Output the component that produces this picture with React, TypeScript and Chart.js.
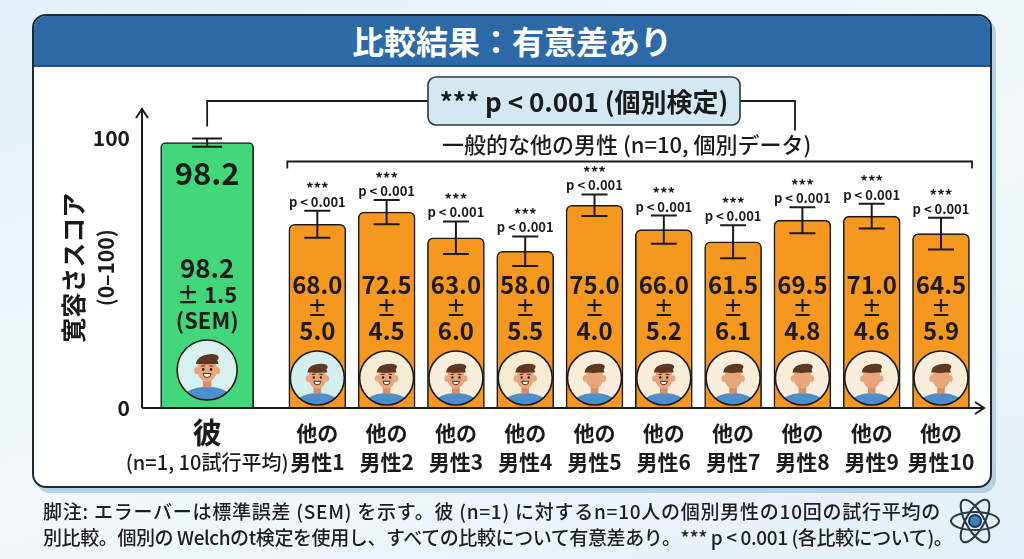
import { useEffect, useRef } from 'react';
import { Chart, registerables } from 'chart.js';

Chart.register(...registerables);

// --- data ---
const heLabels = ['彼', '(n=1, 10試行平均)'];
const heMeans = [98.2];
const heSems = [1.5];

const otherLabels = [
  ['他の', '男性1'], ['他の', '男性2'], ['他の', '男性3'], ['他の', '男性4'], ['他の', '男性5'],
  ['他の', '男性6'], ['他の', '男性7'], ['他の', '男性8'], ['他の', '男性9'], ['他の', '男性10'],
];
const otherMeans = [68.0, 72.5, 63.0, 58.0, 75.0, 66.0, 61.5, 69.5, 71.0, 64.5];
const otherSems = [5.0, 4.5, 6.0, 5.5, 4.0, 5.2, 6.1, 4.8, 4.6, 5.9];
const sigStars = ['***', '***', '***', '***', '***', '***', '***', '***', '***', '***'];
const pTexts = ['p < 0.001', 'p < 0.001', 'p < 0.001', 'p < 0.001', 'p < 0.001', 'p < 0.001', 'p < 0.001', 'p < 0.001', 'p < 0.001', 'p < 0.001'];

const yTicks = [0, 100];
const yTitle = ['寛容さスコア', '(0–100)'];
const groupLabel = '一般的な他の男性 (n=10, 個別データ)';
const testLabel = '*** p < 0.001 (個別検定)';

// face style per bar (smiling face or plain silhouette)
const faceSmile = [true, true, true, true, false, true, false, false, false, false];
const faceBg = ['#d3eeec', '#f5ecd6', '#f7eedb', '#f6ebd3', '#f8eedb', '#f7edd8', '#f8eedb', '#f8eedb', '#f8eedb', '#f8eedb'];

const GROUP_GAP = 0.59; // extra space between 彼 and the others
const FONT = '"Noto Sans CJK JP", "Noto Sans", sans-serif';
const GREEN = '#43d77b';
const ORANGE = '#f6971f';
const INK = '#1b1b1b';

const otherX = otherMeans.map((_, i) => i + 1 + GROUP_GAP);

function drawFace(ctx: CanvasRenderingContext2D, cx: number, cy: number, r: number, bg: string, smile: boolean) {
  ctx.save();
  ctx.beginPath();
  ctx.arc(cx, cy, r, 0, Math.PI * 2);
  ctx.fillStyle = bg;
  ctx.fill();
  ctx.clip();
  // shirt
  ctx.fillStyle = '#4e8fcb';
  ctx.beginPath();
  ctx.ellipse(cx, cy + r * 1.02, r * 0.86, r * 0.46, 0, 0, Math.PI * 2);
  ctx.fill();
  // neck
  ctx.fillStyle = '#d68f68';
  ctx.fillRect(cx - r * 0.14, cy + r * 0.18, r * 0.28, r * 0.4);
  // ears + head
  ctx.fillStyle = '#e8a47b';
  ctx.beginPath();
  ctx.ellipse(cx - r * 0.35, cy + r * 0.02, r * 0.08, r * 0.12, 0, 0, Math.PI * 2);
  ctx.ellipse(cx + r * 0.35, cy + r * 0.02, r * 0.08, r * 0.12, 0, 0, Math.PI * 2);
  ctx.fill();
  ctx.beginPath();
  ctx.ellipse(cx, cy - r * 0.02, r * 0.33, r * 0.41, 0, 0, Math.PI * 2);
  ctx.fill();
  // hair
  ctx.fillStyle = '#5a3822';
  ctx.beginPath();
  ctx.ellipse(cx, cy - r * 0.2, r * 0.37, r * 0.3, 0, Math.PI, Math.PI * 2);
  ctx.fill();
  ctx.beginPath();
  ctx.ellipse(cx + r * 0.05, cy - r * 0.36, r * 0.34, r * 0.16, -0.2, 0, Math.PI * 2);
  ctx.fill();
  if (smile) {
    ctx.fillStyle = '#2a1a10';
    ctx.beginPath();
    ctx.arc(cx - r * 0.13, cy - r * 0.02, r * 0.045, 0, Math.PI * 2);
    ctx.arc(cx + r * 0.13, cy - r * 0.02, r * 0.045, 0, Math.PI * 2);
    ctx.fill();
    ctx.lineWidth = 1;
    ctx.strokeStyle = '#4a2a18';
    ctx.beginPath();
    ctx.moveTo(cx - r * 0.2, cy - r * 0.13);
    ctx.lineTo(cx - r * 0.07, cy - r * 0.14);
    ctx.moveTo(cx + r * 0.07, cy - r * 0.14);
    ctx.lineTo(cx + r * 0.2, cy - r * 0.13);
    ctx.stroke();
    ctx.fillStyle = '#ffffff';
    ctx.beginPath();
    ctx.arc(cx, cy + r * 0.12, r * 0.13, 0, Math.PI);
    ctx.closePath();
    ctx.fill();
    ctx.stroke();
  }
  ctx.restore();
  ctx.beginPath();
  ctx.arc(cx, cy, r, 0, Math.PI * 2);
  ctx.lineWidth = 1.6;
  ctx.strokeStyle = INK;
  ctx.stroke();
}

function errorBar(ctx: CanvasRenderingContext2D, cx: number, top: number, bottom: number, half: number) {
  ctx.beginPath();
  ctx.moveTo(cx, top);
  ctx.lineTo(cx, bottom);
  ctx.moveTo(cx - half, top);
  ctx.lineTo(cx + half, top);
  ctx.moveTo(cx - half, bottom);
  ctx.lineTo(cx + half, bottom);
  ctx.stroke();
}

const overlayPlugin = {
  id: 'overlay',
  afterDatasetsDraw(chart: any) {
    const { ctx, chartArea } = chart;
    const xs = chart.scales.x;
    const ys = chart.scales.y;
    const { left, right, top, bottom } = chartArea;
    ctx.save();
    ctx.strokeStyle = INK;
    ctx.fillStyle = INK;
    ctx.textAlign = 'center';
    ctx.textBaseline = 'middle';

    // axes with arrows
    ctx.lineWidth = 2;
    ctx.beginPath();
    ctx.moveTo(left, bottom);
    ctx.lineTo(left, top + 1);
    ctx.moveTo(left - 6, top + 10);
    ctx.lineTo(left, top + 1);
    ctx.lineTo(left + 6, top + 10);
    ctx.moveTo(left, bottom);
    ctx.lineTo(right - 1, bottom);
    ctx.moveTo(right - 10, bottom - 6);
    ctx.lineTo(right - 1, bottom);
    ctx.lineTo(right - 10, bottom + 6);
    ctx.stroke();

    // y ticks
    ctx.textAlign = 'right';
    ctx.font = `bold 21px ${FONT}`;
    yTicks.forEach((v) => ctx.fillText(String(v), left - 12, ys.getPixelForValue(v)));

    // y title
    const midY = ys.getPixelForValue(50) - 5;
    ctx.textAlign = 'center';
    ctx.save();
    ctx.translate(73, midY);
    ctx.rotate(-Math.PI / 2);
    ctx.font = `bold 25px ${FONT}`;
    ctx.fillText(yTitle[0], 0, 0);
    ctx.restore();
    ctx.save();
    ctx.translate(106, midY);
    ctx.rotate(-Math.PI / 2);
    ctx.font = `bold 21px ${FONT}`;
    ctx.fillText(yTitle[1], 0, 0);
    ctx.restore();

    // --- 彼 ---
    const hx = xs.getPixelForValue(0);
    const hTop = ys.getPixelForValue(heMeans[0] + heSems[0]);
    ctx.lineWidth = 2;
    errorBar(ctx, hx, hTop, ys.getPixelForValue(heMeans[0] - heSems[0]), 15);
    ctx.font = `bold 31px ${FONT}`;
    ctx.fillText(heMeans[0].toFixed(1), hx, 173);
    ctx.font = `bold 26px ${FONT}`;
    ctx.fillText(heMeans[0].toFixed(1), hx, 268);
    ctx.font = `bold 22px ${FONT}`;
    ctx.fillText(`± ${heSems[0].toFixed(1)}`, hx, 295);
    ctx.fillText('(SEM)', hx, 321);
    drawFace(ctx, hx, bottom - 38, 30, '#d6f0ee', true);
    ctx.fillStyle = INK;
    ctx.font = `bold 29px ${FONT}`;
    ctx.fillText(heLabels[0], hx, 433);
    ctx.font = `500 20px ${FONT}`;
    ctx.fillText(heLabels[1], hx, 462);

    // --- others ---
    const errTops: number[] = [];
    otherMeans.forEach((m, i) => {
      const cx = xs.getPixelForValue(otherX[i]);
      const eTop = ys.getPixelForValue(m + otherSems[i]);
      errTops.push(eTop);
      ctx.strokeStyle = INK;
      ctx.lineWidth = 2;
      errorBar(ctx, cx, eTop, ys.getPixelForValue(m - otherSems[i]), 13);
      ctx.fillStyle = INK;
      ctx.font = `bold 24px ${FONT}`;
      ctx.fillText(m.toFixed(1), cx, 285);
      ctx.font = `bold 20px ${FONT}`;
      ctx.fillText('±', cx, 308);
      ctx.font = `bold 24px ${FONT}`;
      ctx.fillText(otherSems[i].toFixed(1), cx, 331);
      drawFace(ctx, cx, bottom - 30, 27, faceBg[i], faceSmile[i]);
      ctx.fillStyle = INK;
      ctx.font = `bold 15px ${FONT}`;
      ctx.fillText(sigStars[i], cx, eTop - 22);
      ctx.font = `bold 13px ${FONT}`;
      ctx.fillText(pTexts[i], cx, eTop - 9);
      ctx.font = `bold 21px ${FONT}`;
      ctx.fillText(otherLabels[i][0], cx, 433);
      ctx.fillText(otherLabels[i][1], cx, 462);
    });

    // bracket over the others
    const bx0 = xs.getPixelForValue(otherX[0]) - 30;
    const bx1 = xs.getPixelForValue(otherX[otherX.length - 1]) + 31;
    const by = Math.min(...errTops) - 33;
    ctx.lineWidth = 1.8;
    ctx.beginPath();
    ctx.moveTo(bx0, by + 7);
    ctx.lineTo(bx0, by);
    ctx.lineTo(bx1, by);
    ctx.lineTo(bx1, by + 7);
    ctx.stroke();
    ctx.font = `500 22px ${FONT}`;
    ctx.fillText(groupLabel, (bx0 + bx1) / 2 - 3, by - 17);

    // test box and connectors
    const boxL = 428, boxR = 740, boxT = 77, boxB = 125;
    const cy = (boxT + boxB) / 2;
    ctx.beginPath();
    ctx.moveTo(hx, hTop - 12);
    ctx.lineTo(hx, cy);
    ctx.lineTo(boxL, cy);
    ctx.moveTo(boxR, cy);
    ctx.lineTo(795, cy);
    ctx.lineTo(795, by - 31);
    ctx.stroke();
    ctx.beginPath();
    ctx.roundRect(boxL, boxT, boxR - boxL, boxB - boxT, 8);
    ctx.fillStyle = '#d3e8f1';
    ctx.fill();
    ctx.lineWidth = 1.6;
    ctx.strokeStyle = '#2b3a45';
    ctx.stroke();
    ctx.fillStyle = INK;
    ctx.font = `bold 26px ${FONT}`;
    ctx.fillText(testLabel, (boxL + boxR) / 2, cy + 1);

    ctx.restore();
  },
};

function ComparisonChart() {
  const canvasRef = useRef<HTMLCanvasElement>(null);

  useEffect(() => {
    if (!canvasRef.current) return;
    const chart = new Chart(canvasRef.current, {
      type: 'bar',
      data: {
        datasets: [
          {
            label: '彼',
            data: heMeans.map((m, i) => ({ x: i, y: m })),
            backgroundColor: GREEN,
            borderColor: INK,
            borderWidth: 1.6,
            borderRadius: { topLeft: 5, topRight: 5 },
            borderSkipped: 'bottom',
            barThickness: 93,
            grouped: false,
          },
          {
            label: '他の男性',
            data: otherMeans.map((m, i) => ({ x: otherX[i], y: m })),
            backgroundColor: ORANGE,
            borderColor: INK,
            borderWidth: 1.6,
            borderRadius: { topLeft: 6, topRight: 6 },
            borderSkipped: 'bottom',
            barThickness: 57,
            grouped: false,
          },
        ] as any,
      },
      options: {
        responsive: false,
        animation: false,
        layout: { padding: { left: 142, top: 108, right: 39, bottom: 151 } },
        scales: {
          x: { type: 'linear', min: -0.94, max: 11.225, offset: false, display: false },
          y: { min: 0, max: 111, display: false },
        },
        plugins: { legend: { display: false }, tooltip: { enabled: false } },
      },
      plugins: [overlayPlugin],
    });
    return () => chart.destroy();
  }, []);

  return (
    <canvas
      ref={canvasRef}
      width={1024}
      height={559}
      style={{ position: 'absolute', left: 0, top: 0, width: 1024, height: 559 }}
    />
  );
}

export default function App() {
  return (
    <div
      style={{
        position: 'fixed',
        left: 0,
        top: 0,
        width: 1024,
        height: 559,
        overflow: 'hidden',
        background: 'linear-gradient(160deg, #e4f0f7 0%, #f2f8fb 55%, #e3eff6 100%)',
        fontFamily: FONT,
      }}
    >
      <div
        style={{
          position: 'absolute',
          left: 32,
          top: 14,
          width: 956,
          height: 470,
          border: '2px solid #1d2a36',
          borderRadius: 14,
          background: '#ffffff',
          overflow: 'hidden',
          boxShadow: '4px 5px 0 rgba(160,195,220,0.7)',
        }}
      >
        <div
          style={{
            height: 49,
            background: '#2c69a6',
            borderBottom: '2px solid #1f4f80',
            color: '#ffffff',
            fontWeight: 700,
            fontSize: 32,
            lineHeight: '49px',
            textAlign: 'center',
          }}
        >
          比較結果：有意差あり
        </div>
      </div>
      <ComparisonChart />
      <div
        style={{
          position: 'absolute',
          left: 43,
          top: 498,
          fontSize: 19,
          lineHeight: '26px',
          fontWeight: 500,
          color: '#1e1e1e',
          whiteSpace: 'nowrap',
        }}
      >
        <div style={{ letterSpacing: 0.75 }}>脚注: エラーバーは標準誤差 (SEM) を示す。彼 (n=1) に対するn=10人の個別男性の10回の試行平均の</div>
        <div style={{ letterSpacing: -0.4 }}>別比較。個別の Welchのt検定を使用し、すべての比較について有意差あり。*** p &lt; 0.001 (各比較について)。</div>
      </div>
      <svg
        width={54}
        height={54}
        viewBox="-27 -27 54 54"
        style={{ position: 'absolute', left: 948, top: 494 }}
      >
        {[0, 60, 120].map((a) => (
          <ellipse key={a} cx={0} cy={0} rx={24} ry={9} fill="none" stroke="#26384a" strokeWidth={2} transform={`rotate(${a})`} />
        ))}
        <circle cx={0} cy={0} r={6} fill="#3f80c2" stroke="#26384a" strokeWidth={2} />
      </svg>
    </div>
  );
}
